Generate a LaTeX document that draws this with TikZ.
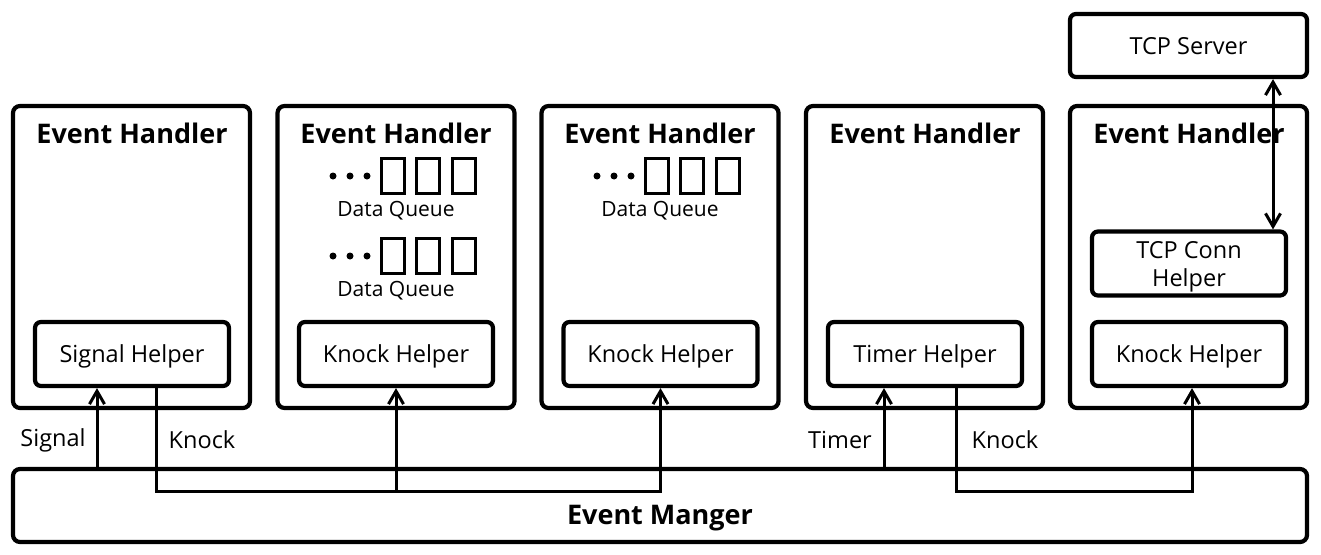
\documentclass[tikz,border=0pt]{standalone}
\usepackage{fontspec}
\setmainfont{Open Sans}
\usetikzlibrary{arrows.meta}
\begin{document}
\begin{tikzpicture}[x=1pt,y=-1pt,
  handler/.style={draw,line width=4.2pt,rounded corners=7pt,inner sep=0pt,minimum width=237pt,minimum height=302pt},
  helper/.style={draw,line width=4.2pt,rounded corners=6pt,inner sep=0pt,minimum width=194pt,minimum height=64pt,font=\fontsize{23.5}{28}\selectfont,align=center,text depth=0pt},
  title/.style={font=\bfseries\fontsize{27}{30}\selectfont,inner sep=0pt},
  lbl/.style={font=\fontsize{23.5}{26}\selectfont,inner sep=0pt},
  qlbl/.style={font=\fontsize{21}{23}\selectfont,inner sep=0pt},
  cell/.style={draw,line width=3.5pt,inner sep=0pt,minimum width=23pt,minimum height=35pt},
  qdot/.style={fill,circle,inner sep=0pt,minimum size=7pt},
  conn/.style={line width=3pt},
  tip/.style={-{Straight Barb[length=13pt,width=15pt]}}
]
\useasboundingbox (0,0) rectangle (1321,554);
% handlers
\node[handler] (h1) at (131.5,257) {};
\node[handler] (h2) at (396,257) {};
\node[handler] (h3) at (660,257) {};
\node[handler] (h4) at (924.5,257) {};
\node[handler] (h5) at (1188.5,257) {};
\node[title] (t1) at (132,133) {Event Handler};
\node[title] (t2) at (396,133) {Event Handler};
\node[title] (t3) at (660,133) {Event Handler};
\node[title] (t4) at (925,133) {Event Handler};
\node[title] (t5) at (1189,133) {Event Handler};
% helpers
\node[helper] (sig) at (132,354) {Signal Helper};
\node[helper] (kn2) at (396,354) {Knock Helper};
\node[helper] (kn3) at (660.5,354) {Knock Helper};
\node[helper] (tim) at (925,354) {Timer Helper};
\node[helper] (kn5) at (1189,354) {Knock Helper};
\node[helper] (tcpc) at (1189,263.5) {TCP Conn\\Helper};
% server and manager
\node[helper,minimum width=237pt,minimum height=63pt] (srv) at (1188.5,45.5) {TCP Server};
\node[handler,minimum width=1294pt,minimum height=73pt] (mgr) at (660,505.5) {};
\node[title] (mgrt) at (660,518) {Event Manger};
% data queues
\foreach \qx/\qy/\qn in {396/176/a, 396/256/b, 660/176/c}{
  \node[qdot] (\qn d1) at (\qx-63,\qy) {};
  \node[qdot] (\qn d2) at (\qx-46,\qy) {};
  \node[qdot] (\qn d3) at (\qx-29,\qy) {};
  \node[cell] (\qn c1) at (\qx-3,\qy) {};
  \node[cell] (\qn c2) at (\qx+32,\qy) {};
  \node[cell] (\qn c3) at (\qx+68,\qy) {};
  \node[qlbl] (\qn l) at (\qx,\qy+35) {Data Queue};
}
% labels
\node[lbl] (lsig) at (53,440) {Signal};
\node[lbl] (lkn1) at (202,440) {Knock};
\node[lbl] (ltim) at (840,440) {Timer};
\node[lbl] (lkn2) at (1005,440) {Knock};
% connectors
\coordinate (bus) at (0,491);
\draw[conn,tip] ([xshift=-35pt]sig.south |- mgr.north) -- ([xshift=-35pt]sig.south);
\draw[conn,tip] ([xshift=24pt]sig.south) |- (bus -| kn3.south) -- (kn3.south);
\draw[conn,tip] (bus -| kn2.south) -- (kn2.south);
\draw[conn,tip] ([xshift=-41pt]tim.south |- mgr.north) -- ([xshift=-41pt]tim.south);
\draw[conn,tip] ([xshift=31pt]tim.south) |- ([xshift=3pt]bus -| kn5.south) -- ([xshift=3pt]kn5.south);
\draw[conn,{Straight Barb[length=13pt,width=15pt]}-{Straight Barb[length=13pt,width=15pt]}] ([xshift=84pt]tcpc.north) -- ([xshift=84pt]tcpc.north |- srv.south);
\end{tikzpicture}
\end{document}
